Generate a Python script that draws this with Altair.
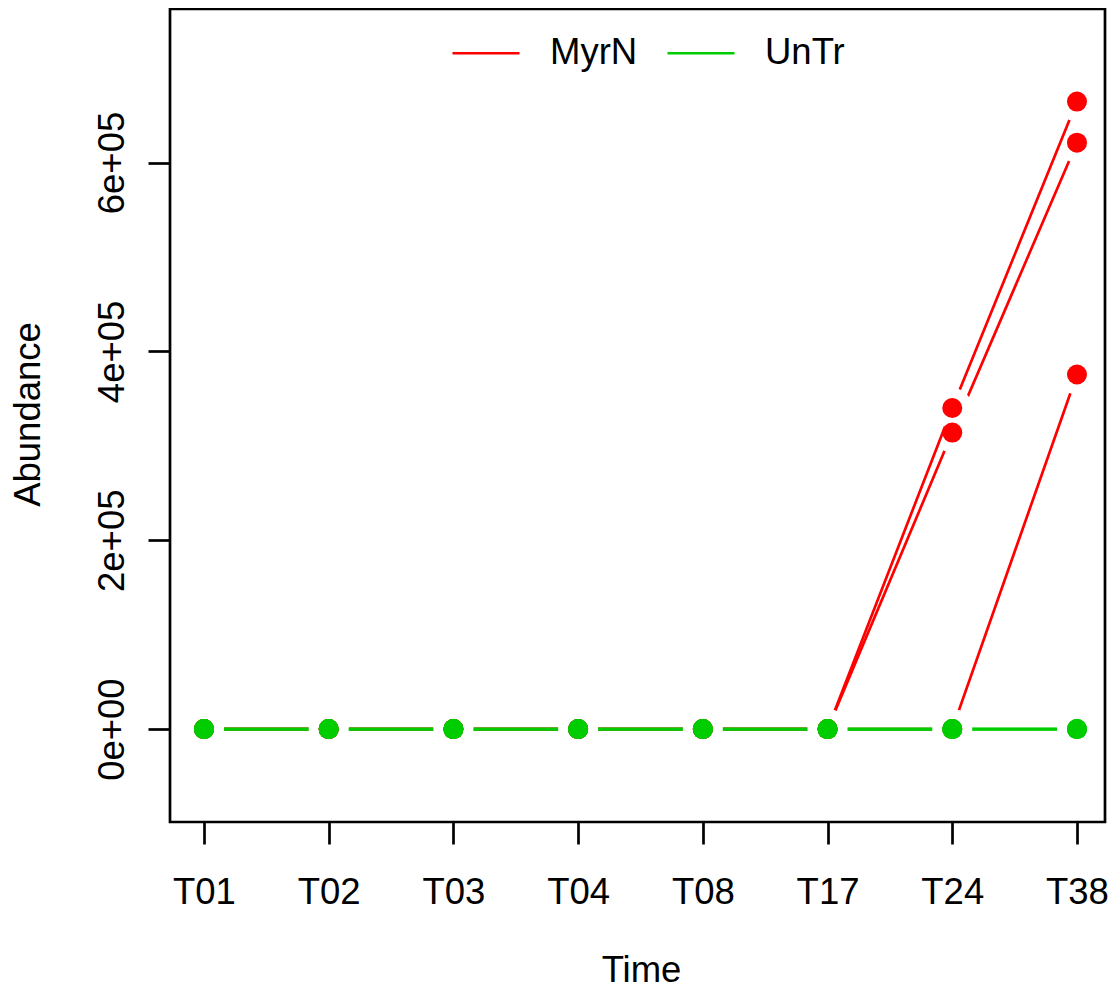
import altair as alt
import pandas as pd

times = ["T01", "T02", "T03", "T04", "T08", "T17", "T24", "T38"]

# MyrN replicates
myrn_b = [0, 0, 0, 0, 0, 0, 314000, 621000]
myrn_a = [0, 0, 0, 0, 0, 0, 340000, 664500]
myrn_c = [0, 0, 0, 0, 0, 0, 0, 375500]
# UnTr replicates
untr_a = [0, 0, 0, 0, 0, 0, 0, 0]
untr_b = [0, 0, 0, 0, 0, 0, 0, 0]
untr_c = [0, 0, 0, 0, 0, 0, 0, 0]

series = [
    ("MyrN_2", "MyrN", myrn_b),
    ("MyrN_1", "MyrN", myrn_a),
    ("MyrN_3", "MyrN", myrn_c),
    ("UnTr_1", "UnTr", untr_a),
    ("UnTr_2", "UnTr", untr_b),
    ("UnTr_3", "UnTr", untr_c),
]
groups = ["MyrN", "UnTr"]
colors = ["#FF0000", "#00CD00"]
y_ticks = [0, 200000, 400000, 600000]

rows = []
for sid, grp, vals in series:
    for t, v in zip(times, vals):
        rows.append({"series": sid, "group": grp, "time": t, "value": v})
df = pd.DataFrame(rows)

FONT = "Liberation Sans"
FS = 36.5
LW = 2.7
W = 935
H = 813

x_enc = alt.X(
    "time:O",
    sort=times,
    scale=alt.Scale(type="point", padding=0.2486, align=0.548, domain=times),
    axis=alt.Axis(
        title="Time",
        labelAngle=0,
        labelBaseline="alphabetic",
        labelPadding=59,
        tickSize=22,
        titleX=471,
        titleY=159,
        titleAlign="center",
        titleBaseline="alphabetic",
    ),
)
y_enc = alt.Y(
    "value:Q",
    scale=alt.Scale(domain=[-98360, 762560], nice=False, zero=False),
    axis=alt.Axis(
        title="Abundance",
        values=y_ticks,
        labelExpr="datum.value == 0 ? '0e+00' : (datum.value / 100000) + 'e+05'",
        labelAngle=270,
        labelAlign="center",
        labelBaseline="alphabetic",
        labelPadding=24.5,
        tickSize=22,
        titleAngle=270,
        titleX=-131,
        titleY=405,
        titleAlign="center",
        titleBaseline="alphabetic",
    ),
)
color_enc = alt.Color(
    "group:N",
    scale=alt.Scale(domain=groups, range=colors),
    legend=alt.Legend(
        title=None,
        orient="none",
        direction="horizontal",
        legendX=281,
        legendY=9,
        symbolType="stroke",
        symbolSize=4489,
        symbolStrokeWidth=LW,
        labelFontSize=FS,
        labelFont=FONT,
        labelColor="black",
        labelOffset=29,
        columnPadding=24,
        padding=0,
    ),
)

base = alt.Chart(df)
layers = []
for sid, grp, vals in series:
    sub = base.transform_filter(alt.datum.series == sid)
    layers.append(
        sub.mark_line(strokeWidth=LW).encode(x=x_enc, y=y_enc, color=color_enc, detail="series:N")
    )
    layers.append(
        sub.mark_point(filled=True, color="white", size=1600, opacity=1, strokeWidth=0).encode(x=x_enc, y=y_enc)
    )
for grp, col in zip(groups, colors):
    layers.append(
        base.transform_filter(alt.datum.group == grp)
        .mark_point(filled=True, color=col, size=400, opacity=1, strokeWidth=0)
        .encode(x=x_enc, y=y_enc)
    )

chart = (
    alt.layer(*layers)
    .properties(
        width=W,
        height=H,
        autosize=alt.AutoSizeParams(type="none"),
        padding={"left": 162, "top": 1, "right": 4, "bottom": 168},
    )
    .configure_view(stroke="black", strokeWidth=LW)
    .configure_axis(
        domain=False,
        grid=False,
        tickColor="black",
        tickWidth=LW,
        labelFont=FONT,
        labelFontSize=FS,
        labelColor="black",
        labelFlush=False,
        labelOverlap=False,
        titleFont=FONT,
        titleFontSize=FS,
        titleFontWeight="normal",
        titleColor="black",
    )
)

chart.save("out.html", embed_options={"renderer": "svg", "actions": False})
